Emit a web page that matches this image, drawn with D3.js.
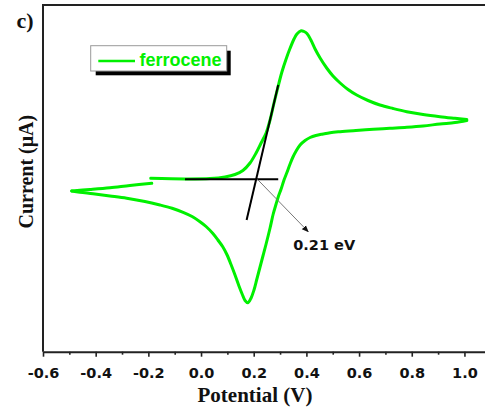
<!DOCTYPE html>
<html><head><meta charset="utf-8">
<script src="https://cdn.jsdelivr.net/npm/d3@7"></script>
<style>
html,body{margin:0;padding:0;background:#fff;}
svg{display:block;}
</style></head>
<body>
<svg id="c" width="485" height="412"></svg>
<script>
// Forward (anodic) scan: -0.19 V -> 1.01 V
const fwdV = [-0.191,-0.061,0.034,0.091,0.129,0.159,0.186,0.209,0.228,0.247,0.262,0.277,0.292,0.307,0.323,0.338,0.353,0.364,0.380,0.391,0.402,0.417,0.433,0.452,0.477,0.501,0.528,0.558,0.591,0.634,0.679,0.729,0.781,0.843,0.907,0.964,1.009];
const fwdI = [0.0,-0.13,-0.05,0.27,0.77,1.57,3.07,5.07,7.07,9.07,11.67,15.07,18.27,21.27,23.87,26.01,27.87,28.87,29.53,29.37,28.97,27.67,25.87,24.07,22.07,20.47,19.07,17.77,16.67,15.57,14.67,13.97,13.33,12.77,12.33,12.01,11.77];
// Reverse (cathodic) scan: 1.01 V -> -0.49 V
const revV = [1.009,0.964,0.907,0.843,0.781,0.717,0.654,0.588,0.528,0.490,0.463,0.436,0.414,0.395,0.376,0.361,0.349,0.338,0.326,0.315,0.304,0.293,0.285,0.274,0.262,0.247,0.235,0.224,0.212,0.201,0.190,0.178,0.167,0.156,0.144,0.129,0.116,0.099,0.083,0.064,0.045,0.019,-0.004,-0.034,-0.068,-0.110,-0.156,-0.213,-0.282,-0.346,-0.410,-0.460,-0.491];
const revI = [11.57,11.17,10.87,10.47,10.21,10.01,9.81,9.57,9.33,9.13,8.87,8.57,8.17,7.57,6.67,5.47,4.27,2.87,1.17,-0.33,-2.13,-3.73,-5.13,-7.13,-9.93,-13.13,-15.53,-17.73,-20.13,-22.33,-23.93,-24.87,-24.43,-23.13,-21.53,-19.33,-17.53,-15.33,-13.73,-12.33,-11.03,-9.63,-8.67,-7.63,-6.79,-5.99,-5.33,-4.63,-3.99,-3.53,-3.09,-2.77,-2.53];
// Return scan: -0.49 V -> -0.19 V
const retV = [-0.491,-0.422,-0.346,-0.270,-0.187];
const retI = [-2.53,-2.23,-1.87,-1.43,-0.99];

const xTicks = [-0.6,-0.4,-0.2,0.0,0.2,0.4,0.6,0.8,1.0];
const xMinor = [-0.5,-0.3,-0.1,0.1,0.3,0.5,0.7,0.9];
const xTickLabels = ["-0.6","-0.4","-0.2","0.0","0.2","0.4","0.6","0.8","1.0"];

// Onset construction (baseline and tangent) and E1/2 annotation
const baseV = [-0.061,0.293], baseI = [-0.19,-0.19];
const tanV = [0.293,0.173], tanI = [18.67,-8.33];
const arrowV = [0.214,0.407], arrowI = [-0.19,-10.67];
const annotText = "0.21 eV", annotV = 0.350, annotI = -14.33;
const seriesName = "ferrocene";

const svg = d3.select("#c");
const L = 43, T = 5, B = 351.7;
const x = d3.scaleLinear().domain([-0.6,1.08]).range([L, L + 1.68*263.4]);
const y = d3.scaleLinear().domain([-34.67,34.67]).range([B, T]);
const green = "#00f000";

const defs = svg.append("defs");
defs.append("marker").attr("id","ah").attr("viewBox","0 0 10 10").attr("refX",9).attr("refY",5)
  .attr("markerWidth",7).attr("markerHeight",7).attr("orient","auto")
  .append("path").attr("d","M0,1L10,5L0,9Z").attr("fill","#111");

// frame (top and left)
svg.append("line").attr("x1",L).attr("x2",485).attr("y1",T).attr("y2",T).attr("stroke","#222").attr("stroke-width",2);
svg.append("line").attr("x1",L).attr("x2",L).attr("y1",T-1).attr("y2",B).attr("stroke","#222").attr("stroke-width",2);

// bottom axis
const gx = svg.append("g").attr("transform",`translate(0,${B})`);
gx.call(d3.axisBottom(x).tickValues(xMinor).tickSize(3).tickSizeOuter(0).tickFormat(""));
const gx2 = svg.append("g").attr("transform",`translate(0,${B})`);
gx2.call(d3.axisBottom(x).tickValues(xTicks).tickSize(5).tickSizeOuter(0).tickFormat((d,i)=>xTickLabels[i]));
[gx,gx2].forEach(g=>{
  g.select(".domain").attr("stroke","#222").attr("stroke-width",2);
  g.selectAll(".tick line").attr("stroke","#222").attr("stroke-width",1.6);
});
gx.select(".domain").remove();
gx2.selectAll(".tick text").attr("y",26).attr("dy",null)
  .style("font-family","'DejaVu Sans'").style("font-weight","bold").style("font-size","14.5px").attr("fill","#111");

// axis titles
svg.append("text").attr("x",255).attr("y",401.7).attr("text-anchor","middle")
  .style("font-family","'Liberation Serif'").style("font-weight","bold").style("font-size","21px").attr("fill","#111")
  .text("Potential (V)");
svg.append("text").attr("transform","translate(32.5,171.7) rotate(-90)").attr("text-anchor","middle")
  .style("font-family","'Liberation Serif'").style("font-weight","bold").style("font-size","20px").attr("fill","#111")
  .text("Current (μA)");
svg.append("text").attr("x",16.5).attr("y",28).style("font-family","'Liberation Serif'").style("font-weight","bold")
  .style("font-size","22px").attr("fill","#111").text("c)");

// curves
const line = d3.line().x(d=>x(d[0])).y(d=>y(d[1])).curve(d3.curveCatmullRom.alpha(0.5));
const segs = [[fwdV,fwdI],[revV,revI],[retV,retI]];
segs.forEach(([V,I])=>{
  svg.append("path").datum(V.map((v,i)=>[v,I[i]])).attr("d",line)
    .attr("fill","none").attr("stroke",green).attr("stroke-width",3).attr("stroke-linecap","round").attr("stroke-linejoin","round");
});

// onset construction
const sl = d3.line().x(d=>x(d[0])).y(d=>y(d[1]));
svg.append("path").datum(baseV.map((v,i)=>[v,baseI[i]])).attr("d",sl).attr("stroke","#000").attr("stroke-width",2).attr("fill","none");
svg.append("path").datum(tanV.map((v,i)=>[v,tanI[i]])).attr("d",sl).attr("stroke","#000").attr("stroke-width",2).attr("fill","none");
svg.append("path").datum(arrowV.map((v,i)=>[v,arrowI[i]])).attr("d",sl).attr("stroke","#777").attr("stroke-width",1).attr("fill","none")
  .attr("marker-end","url(#ah)");
svg.append("text").attr("x",x(annotV)).attr("y",y(annotI))
  .style("font-family","'DejaVu Sans'").style("font-weight","bold").style("font-size","14.5px").attr("fill","#111").text(annotText);

// legend
const lg = svg.append("g");
lg.append("rect").attr("x",95.7).attr("y",50.7).attr("width",135).attr("height",24.6).attr("fill","#000");
lg.append("rect").attr("x",90.7).attr("y",45.7).attr("width",136).attr("height",25.3).attr("fill","#fff").attr("stroke","#999").attr("stroke-width",1);
lg.append("line").attr("x1",98.3).attr("x2",135).attr("y1",61).attr("y2",61).attr("stroke",green).attr("stroke-width",2.7);
lg.append("text").attr("x",139.5).attr("y",66).style("font-family","'Liberation Sans'").style("font-weight","bold")
  .style("font-size","18px").attr("fill",green).text(seriesName);
</script>
</body></html>
